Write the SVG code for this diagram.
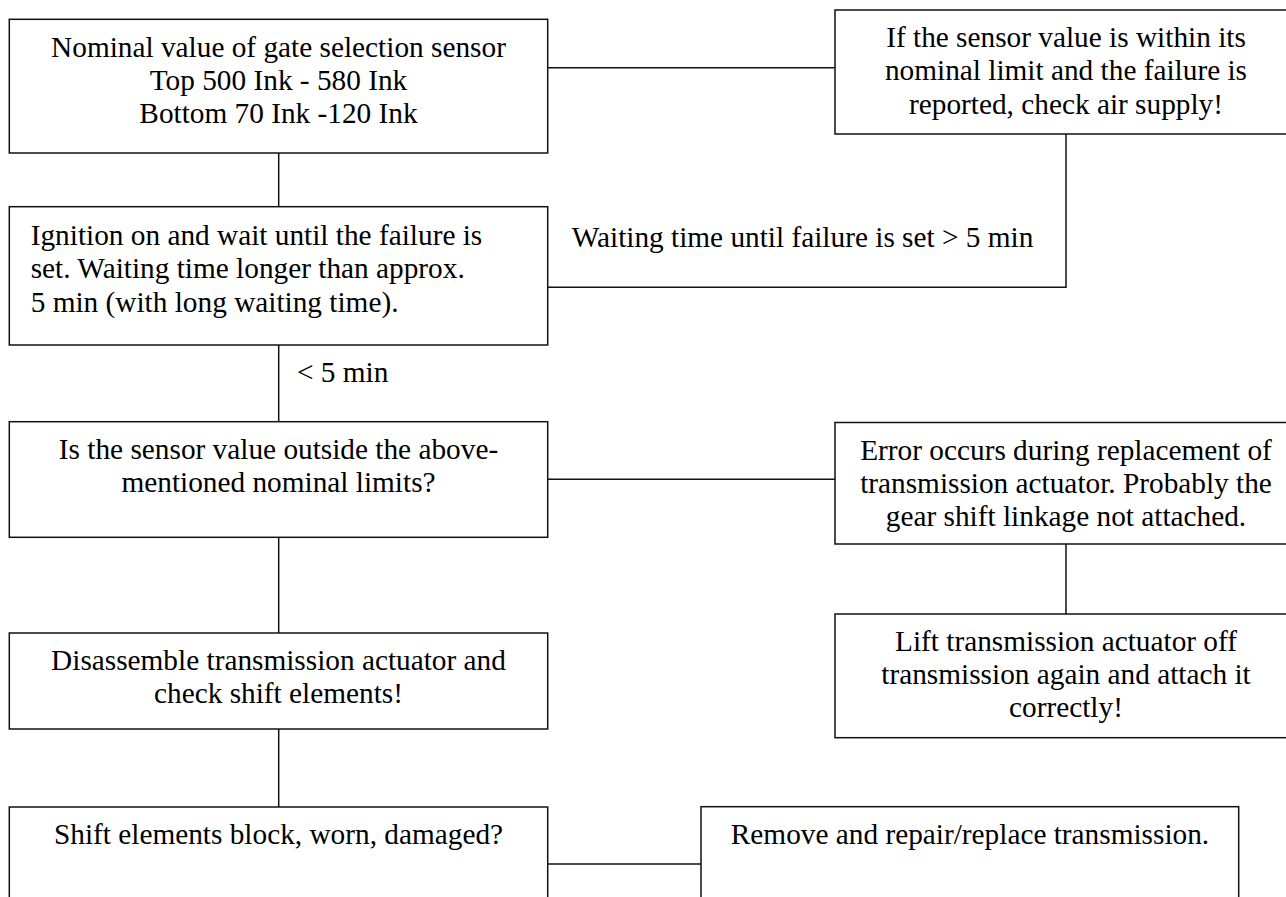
<svg xmlns="http://www.w3.org/2000/svg" width="1286" height="897" viewBox="0 0 1286 897">
<style>
.box{fill:#fff;stroke:#111;stroke-width:1.5}
.ln{fill:none;stroke:#111;stroke-width:1.5}
text{font-family:"Liberation Serif","Times New Roman",serif;font-size:29.3px;fill:#000}
.c{text-anchor:middle}
</style>
<rect width="1286" height="897" fill="#fff"/>
<g id="connectors">
<line class="ln" x1="547.7" y1="67.7" x2="835" y2="67.7"/>
<line class="ln" x1="278.7" y1="153" x2="278.7" y2="206.7"/>
<polyline class="ln" points="1066,134 1066,287.3 547.7,287.3"/>
<line class="ln" x1="278.7" y1="345" x2="278.7" y2="421.7"/>
<line class="ln" x1="547.7" y1="479.3" x2="835" y2="479.3"/>
<line class="ln" x1="1066" y1="544" x2="1066" y2="614"/>
<line class="ln" x1="278.7" y1="537.3" x2="278.7" y2="633"/>
<line class="ln" x1="278.7" y1="729" x2="278.7" y2="807"/>
<line class="ln" x1="547.7" y1="864" x2="701" y2="864"/>
<text x="571.7" y="246.7">Waiting time until failure is set &gt; 5 min</text>
<text x="297" y="381.7">&lt; 5 min</text>
</g>
<g id="n1">
<rect class="box" x="9.3" y="19.3" width="538.4" height="133.7"/>
<text class="c" x="278.5" y="56.5">Nominal value of gate selection sensor</text>
<text class="c" x="278.5" y="89.8">Top 500 Ink - 580 Ink</text>
<text class="c" x="278.5" y="123.1">Bottom 70 Ink -120 Ink</text>
</g>
<g id="n2">
<rect class="box" x="835" y="10" width="462" height="124"/>
<text class="c" x="1066" y="47">If the sensor value is within its</text>
<text class="c" x="1066" y="80.3">nominal limit and the failure is</text>
<text class="c" x="1066" y="113.6">reported, check air supply!</text>
</g>
<g id="n3">
<rect class="box" x="9.3" y="206.7" width="538.4" height="138.3"/>
<text x="30.7" y="245">Ignition on and wait until the failure is</text>
<text x="30.7" y="278.3">set. Waiting time longer than approx.</text>
<text x="30.7" y="311.6">5 min (with long waiting time).</text>
</g>
<g id="n4">
<rect class="box" x="9.3" y="421.7" width="538.4" height="115.6"/>
<text class="c" x="278.5" y="458.5">Is the sensor value outside the above-</text>
<text class="c" x="278.5" y="491.8">mentioned nominal limits?</text>
</g>
<g id="n5">
<rect class="box" x="9.3" y="633" width="538.4" height="96"/>
<text class="c" x="278.5" y="670">Disassemble transmission actuator and</text>
<text class="c" x="278.5" y="703.3">check shift elements!</text>
</g>
<g id="n6">
<rect class="box" x="9.3" y="807" width="538.4" height="120"/>
<text class="c" x="278.5" y="843.5">Shift elements block, worn, damaged?</text>
</g>
<g id="n7">
<rect class="box" x="701" y="806.7" width="537.7" height="120"/>
<text class="c" x="970" y="843.5">Remove and repair/replace transmission.</text>
</g>
<g id="n8">
<rect class="box" x="835" y="422.5" width="462" height="121.5"/>
<text class="c" x="1066" y="459.5">Error occurs during replacement of</text>
<text class="c" x="1066" y="492.8">transmission actuator. Probably the</text>
<text class="c" x="1066" y="526.1">gear shift linkage not attached.</text>
</g>
<g id="n9">
<rect class="box" x="835" y="614" width="462" height="123.7"/>
<text class="c" x="1066" y="650.5">Lift transmission actuator off</text>
<text class="c" x="1066" y="683.8">transmission again and attach it</text>
<text class="c" x="1066" y="717.1">correctly!</text>
</g>
</svg>
